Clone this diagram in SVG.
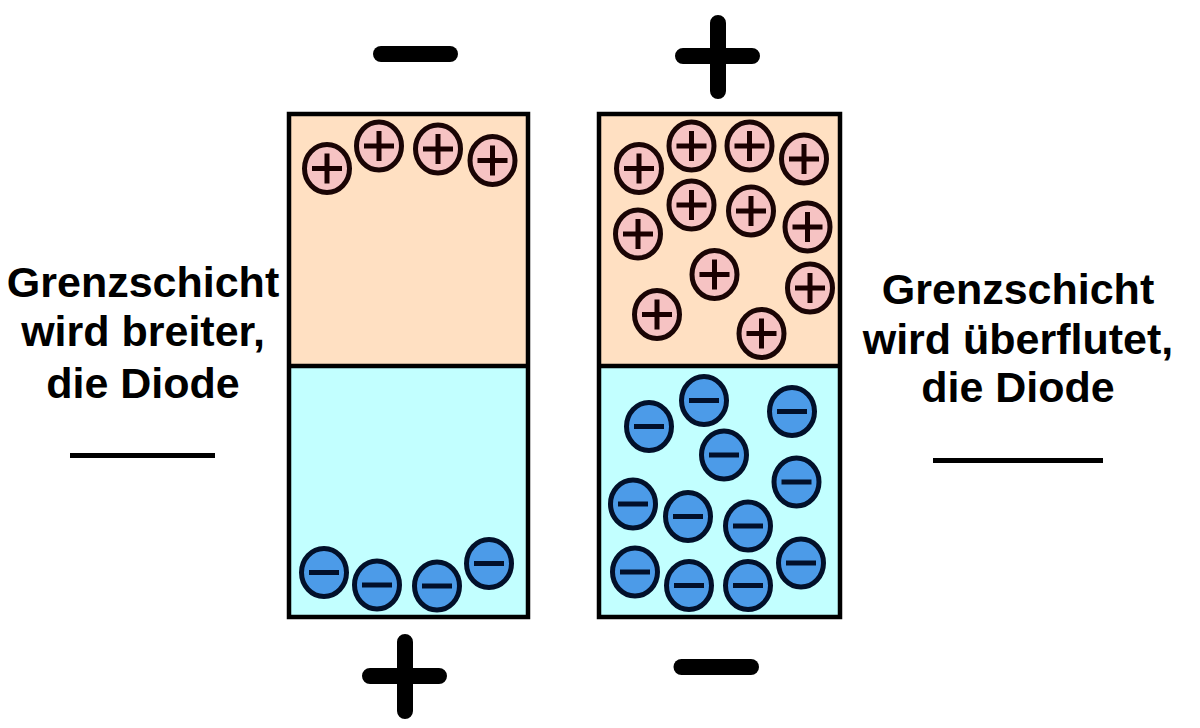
<svg xmlns="http://www.w3.org/2000/svg" xmlns:xlink="http://www.w3.org/1999/xlink" width="1200" height="728" viewBox="0 0 1200 728">
  <style>
    .p { fill: #FFE0C2; stroke: none; }
    .n { fill: #C2FFFF; stroke: none; }
    .frame { fill: none; stroke: #000; stroke-width: 4.5; }
    .div { stroke: #000; stroke-width: 4.5; }
    .big { stroke: #000; stroke-width: 16; stroke-linecap: round; fill: none; }
    .lbl { font-family: "Liberation Sans", Arial, sans-serif; font-weight: bold; font-size: 43px; fill: #000; text-anchor: middle; }
    .ul { stroke: #000; stroke-width: 5; }
  </style>
  <defs>
    <g id="pos">
      <ellipse cx="0" cy="0" rx="22.5" ry="24" fill="#F6C3C3" stroke="#1A0505" stroke-width="5"/>
      <path d="M-15 0H15M0 -15V15" stroke="#1A0000" stroke-width="5" fill="none"/>
    </g>
    <g id="neg">
      <ellipse cx="0" cy="0" rx="22.5" ry="24" fill="#4C9BE8" stroke="#02102A" stroke-width="5"/>
      <path d="M-15 0H15" stroke="#02102A" stroke-width="5" fill="none"/>
    </g>
  </defs>
  <rect width="1200" height="728" fill="#fff"/>

  <g id="box-left">
    <rect class="p" x="289" y="114" width="239" height="252"/>
    <rect class="n" x="289" y="366" width="239" height="251"/>
    <line class="div" x1="289" y1="366" x2="528" y2="366"/>
    <rect class="frame" x="289" y="114" width="239" height="503"/>
    <use xlink:href="#pos" x="327" y="168.5"/>
    <use xlink:href="#pos" x="379" y="146"/>
    <use xlink:href="#pos" x="438" y="149"/>
    <use xlink:href="#pos" x="492.5" y="160.5"/>
    <use xlink:href="#neg" x="324" y="572.5"/>
    <use xlink:href="#neg" x="377" y="585"/>
    <use xlink:href="#neg" x="437" y="586"/>
    <use xlink:href="#neg" x="489" y="563.5"/>
  </g>

  <g id="box-right">
    <rect class="p" x="599" y="114" width="241" height="252"/>
    <rect class="n" x="599" y="366" width="241" height="251"/>
    <line class="div" x1="599" y1="366" x2="840" y2="366"/>
    <rect class="frame" x="599" y="114" width="241" height="503"/>
    <use xlink:href="#pos" x="639" y="168.5"/>
    <use xlink:href="#pos" x="691.5" y="146"/>
    <use xlink:href="#pos" x="749.5" y="146"/>
    <use xlink:href="#pos" x="804" y="159"/>
    <use xlink:href="#pos" x="691.5" y="205"/>
    <use xlink:href="#pos" x="751" y="211"/>
    <use xlink:href="#pos" x="638" y="234"/>
    <use xlink:href="#pos" x="807.5" y="227"/>
    <use xlink:href="#pos" x="714.5" y="274.5"/>
    <use xlink:href="#pos" x="810" y="288"/>
    <use xlink:href="#pos" x="657" y="314.5"/>
    <use xlink:href="#pos" x="761.5" y="333.5"/>
    <use xlink:href="#neg" x="649" y="426.5"/>
    <use xlink:href="#neg" x="704" y="400.5"/>
    <use xlink:href="#neg" x="792" y="411.5"/>
    <use xlink:href="#neg" x="724" y="455"/>
    <use xlink:href="#neg" x="796.5" y="482"/>
    <use xlink:href="#neg" x="633" y="504"/>
    <use xlink:href="#neg" x="688" y="516.5"/>
    <use xlink:href="#neg" x="748" y="526"/>
    <use xlink:href="#neg" x="635" y="572"/>
    <use xlink:href="#neg" x="689" y="585.5"/>
    <use xlink:href="#neg" x="748" y="585.5"/>
    <use xlink:href="#neg" x="801" y="563"/>
  </g>

  <g id="signs">
    <path class="big" d="M381 54H450"/>
    <path class="big" d="M683 56H752M718 23V91"/>
    <path class="big" d="M370 676H439M405 642V711"/>
    <path class="big" d="M681.5 667H751"/>
  </g>

  <g id="label-left">
    <text class="lbl" x="143" y="297">Grenzschicht</text>
    <text class="lbl" x="143" y="346">wird breiter,</text>
    <text class="lbl" x="143" y="398">die Diode</text>
    <line class="ul" x1="70" y1="455.5" x2="215" y2="455.5"/>
  </g>

  <g id="label-right">
    <text class="lbl" x="1018" y="304">Grenzschicht</text>
    <text class="lbl" x="1018" y="354">wird überflutet,</text>
    <text class="lbl" x="1018" y="402">die Diode</text>
    <line class="ul" x1="933" y1="460.5" x2="1103" y2="460.5"/>
  </g>
</svg>
